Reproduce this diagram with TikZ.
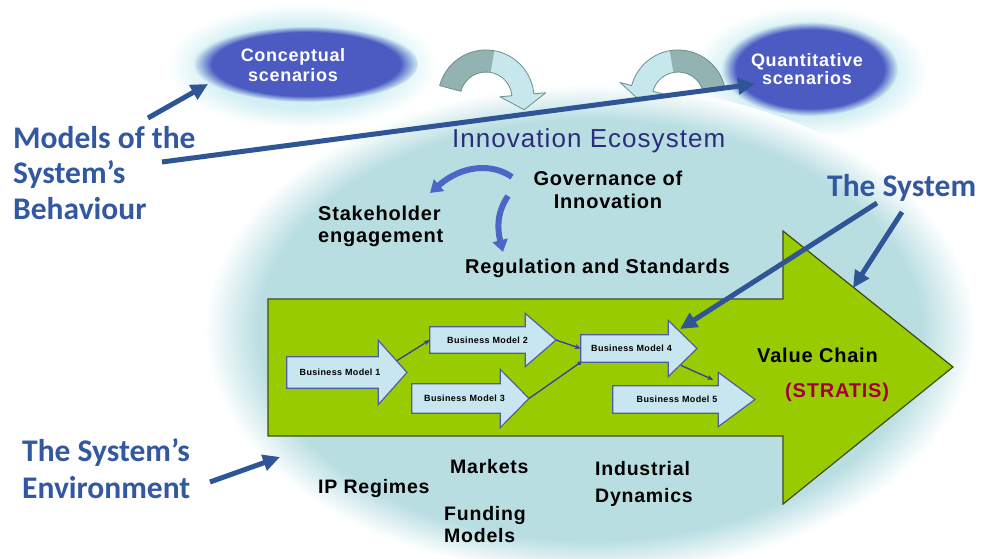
\documentclass[tikz,border=0pt]{standalone}
\usepackage{fontspec}
\setmainfont{Liberation Sans}
\newfontfamily\labelfont{Carlito}
\newfontfamily\boxfont[LetterSpace=4]{Liberation Sans}
\newfontfamily\titlefont[LetterSpace=4]{Liberation Sans}
\usetikzlibrary{arrows.meta,calc}

\definecolor{eco}{HTML}{B9DEE2}
\definecolor{vgreen}{HTML}{99CC00}
\definecolor{vgreenline}{HTML}{3F4A1A}
\definecolor{bmfill}{HTML}{C8E6EF}
\definecolor{bmline}{HTML}{4F5DA8}
\definecolor{linkblue}{HTML}{3B3C9C}
\definecolor{arrowblue}{HTML}{2F5597}
\definecolor{labelblue}{HTML}{3358A2}
\definecolor{navy}{HTML}{2B2C7C}
\definecolor{stratis}{HTML}{A3003A}
\definecolor{cloudblue}{HTML}{4B5BC2}
\definecolor{glow}{HTML}{D2EFF3}
\definecolor{tealdark}{HTML}{93B2B2}
\definecolor{teallight}{HTML}{C6E7EB}
\definecolor{tealline}{HTML}{6E8E8E}
\definecolor{curvblue}{HTML}{4A66C6}

\pgfdeclarelayer{bg}
\pgfdeclarelayer{mid}
\pgfsetlayers{bg,mid,main}

% the path's bounding box maps onto the central 50bp square, so edges sit at 25bp
\pgfdeclareradialshading{ecofade}{\pgfpoint{0bp}{0bp}}{color(0bp)=(eco); color(21.5bp)=(eco); color(25bp)=(white); color(50bp)=(white)}
\pgfdeclareradialshading{glowfade}{\pgfpoint{0bp}{0bp}}{color(0bp)=(glow); color(17bp)=(glow); color(25bp)=(white); color(50bp)=(white)}
\pgfdeclareradialshading{cloudfade}{\pgfpoint{0bp}{0bp}}{color(0bp)=(cloudblue); color(21bp)=(cloudblue); color(25bp)=(glow); color(50bp)=(glow)}

\tikzset{
  bmbody/.style={inner sep=0pt, font=\boxfont\bfseries\fontsize{9}{10}\selectfont},
  bmshape/.style={fill=bmfill, draw=bmline, line width=1.2pt, line join=miter},
  link/.style={draw=linkblue, line width=1.3pt, -{Stealth[length=6pt,width=5pt]}},
  dotlink/.style={draw=linkblue, line width=1.3pt, -{Circle[length=4pt]}},
  pointer/.style={draw=arrowblue, line width=5pt, -{Triangle[length=17pt,width=16pt]}},
  swirl/.style={draw=curvblue, line width=6pt, -{Triangle[length=12pt,width=15pt]}},
  bluelabel/.style={font=\labelfont\bfseries\fontsize{31.5}{35.5}\selectfont, text=labelblue, align=left, inner sep=0pt, anchor=base west},
  blacktext/.style={font=\boxfont\bfseries\fontsize{20}{23}\selectfont, inner sep=0pt, anchor=base west, align=left},
  groundtext/.style={font=\boxfont\bfseries\fontsize{19.5}{22}\selectfont, inner sep=0pt, anchor=base west, align=left},
  cloudtext/.style={font=\boxfont\bfseries\fontsize{18}{20}\selectfont, text=white, inner sep=0pt, anchor=base, align=center},
  tealfill/.style={fill=teallight},
  tealback/.style={fill=tealdark},
  tealedge/.style={draw=tealline, line width=0.8pt, line join=round},
}

% business model arrow: name, left x, body end x, tip x, centre y,
% half body height, half head height, text offset, text
\newcommand{\bmarrow}[9]{%
  \node[bmbody, minimum width={#3-#2}, minimum height={2*#6}] (#1) at ({(#2+#3)/2},#5) {\makebox[0pt]{\hspace*{#8pt}#9}};
  \coordinate (#1tip) at (#4,#5);
  \begin{pgfonlayer}{mid}
    \draw[bmshape] (#1.south west) -- (#1.south east) -- ++(0,#7-#6) -- (#1tip)
      -- ($(#1.north east)+(0,#6-#7)$) -- (#1.north east) -- (#1.north west) -- cycle;
  \end{pgfonlayer}}

\begin{document}
\begin{tikzpicture}[x=1pt,y=-1pt]
\useasboundingbox (0,0) rectangle (982,559);

\begin{pgfonlayer}{bg}
  \fill[white] (0,0) rectangle (982,559);
  % scenario clouds with their halos
  \shade[shading=glowfade] (302,66) ellipse [x radius=135, y radius=62];
  \shade[shading=cloudfade] (306,64) ellipse [x radius=112, y radius=38];
  \shade[shading=glowfade] (810,72) ellipse [x radius=118, y radius=66];
  \shade[shading=cloudfade] (810,69) ellipse [x radius=88, y radius=47];
  % innovation ecosystem
  \shade[shading=ecofade] (590,330) ellipse [x radius=385, y radius=245];
  % value chain
  \filldraw[fill=vgreen, draw=vgreenline, line width=1.2pt, line join=miter]
    (268,299) -- (783,299) -- (783,231) -- (953,367) -- (783,504) -- (783,436) -- (268,436) -- cycle;
  % curved arrows between the scenarios
  \begin{scope}[shift={(486,98)}, yscale=-1]
    \fill[tealfill] (165:48) arc[start angle=165, end angle=5, radius=48] -- (5:60) -- (38.2,-11.7)
      -- (5:14) -- (5:26) arc[start angle=5, end angle=165, radius=26] -- cycle;
    \fill[tealback] (165:48) arc[start angle=165, end angle=80, radius=48] -- (80:26)
      arc[start angle=80, end angle=165, radius=26] -- cycle;
    \draw[tealedge] (165:48) arc[start angle=165, end angle=5, radius=48] -- (5:60) -- (38.2,-11.7)
      -- (5:14) -- (5:26) arc[start angle=5, end angle=165, radius=26] -- cycle;
  \end{scope}
  \begin{scope}[shift={(678,98)}, xscale=-1, yscale=-1]
    \fill[tealfill] (165:48) arc[start angle=165, end angle=15, radius=48] -- (15:60) -- (38.8,-2.0)
      -- (15:14) -- (15:26) arc[start angle=15, end angle=165, radius=26] -- cycle;
    \fill[tealback] (165:48) arc[start angle=165, end angle=80, radius=48] -- (80:26)
      arc[start angle=80, end angle=165, radius=26] -- cycle;
    \draw[tealedge] (165:48) arc[start angle=165, end angle=15, radius=48] -- (15:60) -- (38.8,-2.0)
      -- (15:14) -- (15:26) arc[start angle=15, end angle=165, radius=26] -- cycle;
  \end{scope}
\end{pgfonlayer}

% business models
\bmarrow{bm1}{287}{378}{407}{372.5}{15.5}{32}{15}{Business Model 1}
\bmarrow{bm2}{430}{525}{556}{340}{13}{26.5}{20}{Business Model 2}
\bmarrow{bm3}{412}{500}{529}{398.5}{14.5}{29}{17}{Business Model 3}
\bmarrow{bm4}{581}{668}{697}{348.5}{13.5}{28}{14}{Business Model 4}
\bmarrow{bm5}{613}{718}{755}{399.5}{13.5}{27}{23}{Business Model 5}

\draw[link] ($(bm1.east)+(19,-12)$) -- (bm2.west);
\draw[link] (bm2tip) -- (bm4.west);
\draw[dotlink] (bm3tip) -- (bm4.south west);
\draw[link] ($(bm4.east)+(13,17)$) -- ($(bm5.north east)+(-5,-6)$);

% texts (a multi-line node sits on the baseline of its last line)
\node[cloudtext] (concept) at (293,82) {Conceptual\\scenarios};
\node[cloudtext, font=\boxfont\bfseries\fontsize{18}{18}\selectfont] (quant) at (807,85) {Quantitative\\scenarios};
\node[font=\titlefont\fontsize{26}{30}\selectfont, text=navy, inner sep=0pt, anchor=base west] (ecotitle) at (452,147) {Innovation Ecosystem};
\node[blacktext, anchor=base, align=center] (gov) at (608,208) {Governance of\\Innovation};
\node[blacktext, font=\boxfont\bfseries\fontsize{20}{22}\selectfont] (stake) at (318,242) {Stakeholder\\engagement};
\node[blacktext] (reg) at (465,273) {Regulation and Standards};
\node[blacktext] (value) at (757,362) {Value Chain};
\node[blacktext, text=stratis] (stratis) at (785,397) {(STRATIS)};
\node[groundtext] (ip) at (318,493) {IP Regimes};
\node[groundtext] (markets) at (450,473) {Markets};
\node[groundtext] (funding) at (444,542) {Funding\\Models};
\node[groundtext, font=\boxfont\bfseries\fontsize{19.5}{27}\selectfont] (industrial) at (595,502) {Industrial\\Dynamics};

\node[bluelabel] (behaviour) at (13,219) {Models of the\\System’s\\Behaviour};
\node[bluelabel, font=\labelfont\bfseries\fontsize{31.5}{37}\selectfont] (envlabel) at (22,498) {The System’s\\Environment};
\node[bluelabel] (syslabel) at (827,196) {The System};

% governance swirls
\coordinate (swA) at (512,177);
\coordinate (swAend) at (430,193);
\coordinate (swB) at (508,196);
\coordinate (swBend) at (503,252);
\draw[swirl] (swA) .. controls (492,163) and (462,165) .. (swAend);
\draw[swirl] (swB) .. controls (497,212) and (497,228) .. (swBend);

% pointers from the labels
\coordinate (behA) at (148,118);
\coordinate (conceptIn) at (208,84);
\coordinate (behB) at (162,162);
\coordinate (quantIn) at (755,84);
\coordinate (sysA) at (877,203);
\coordinate (bm4top) at (680,329);
\coordinate (sysB) at (902,212);
\coordinate (headEdge) at (853,288);
\coordinate (envA) at (210,482);
\coordinate (ecoEdge) at (280,457);
\draw[pointer] (behA) -- (conceptIn);
\draw[pointer] (behB) -- (quantIn);
\draw[pointer] (sysA) -- (bm4top);
\draw[pointer] (sysB) -- (headEdge);
\draw[pointer] (envA) -- (ecoEdge);
\end{tikzpicture}
\end{document}
